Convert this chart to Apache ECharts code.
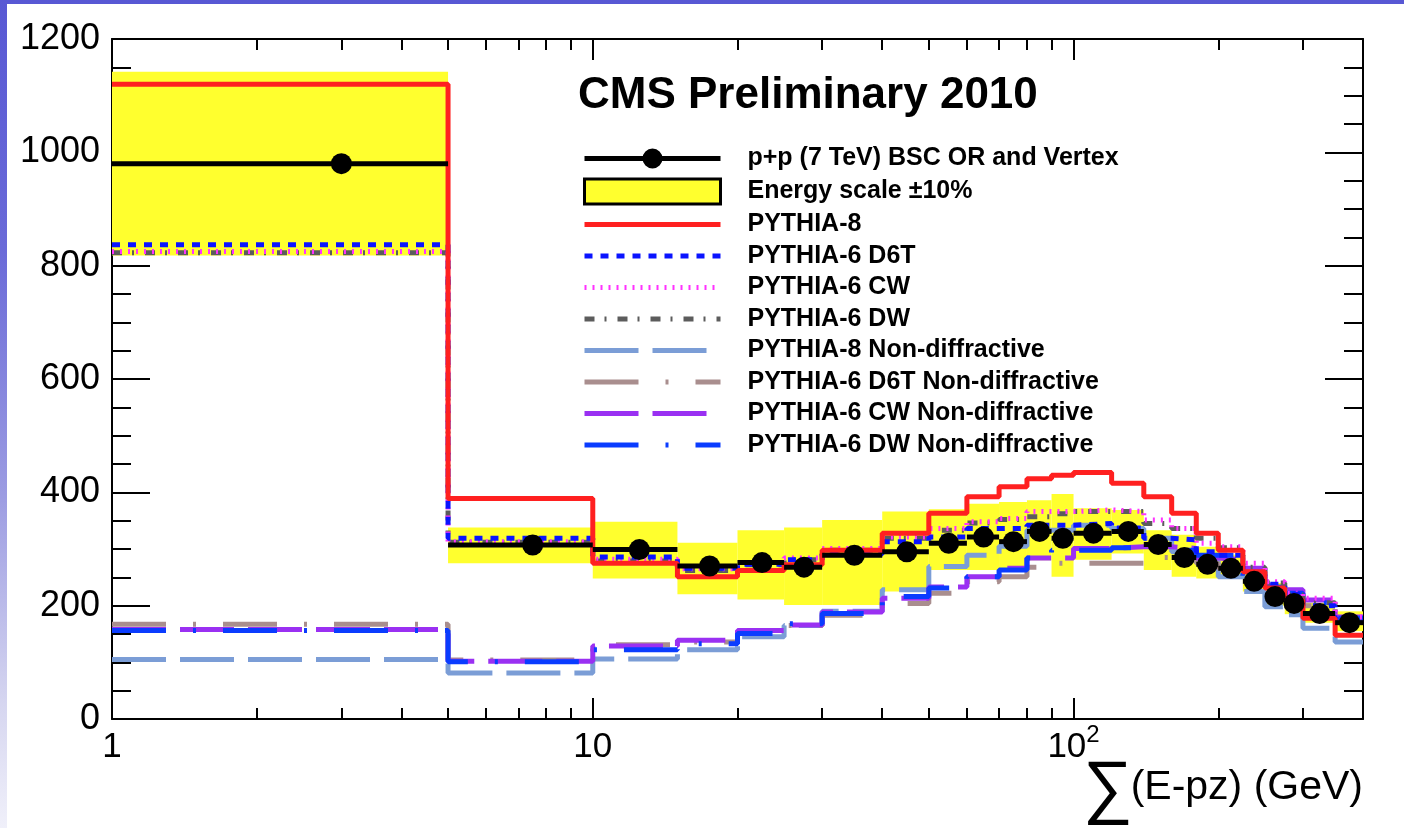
<!DOCTYPE html>
<html><head><meta charset="utf-8">
<script src="https://cdn.jsdelivr.net/npm/echarts@6/dist/echarts.min.js"></script>
<style>
html,body{margin:0;padding:0;width:1404px;height:828px;overflow:hidden;
background:linear-gradient(180deg,#5858d4 0%,#6a6ad8 30%,#9c9ce2 60%,#d6d6f0 85%,#f0f0fa 100%);}
#chart{position:absolute;left:7px;top:4px;width:1397px;height:824px;background:#fff;}
</style></head><body><div id="chart"></div>
<script>
// ---- data ----
const binEdges = [1,5,10,15,20,25,30,40,50,60,70,80,90,100,120,140,160,180,200,225,250,275,300,350,400];
const dataValues = [980,307,299,270,276,268,289,295,310,321,313,331,319,328,331,308,285,273,266,243,216,204,186,170];
const bandLow  = [818,275,248,220,211,201,201,225,263,263,265,280,251,281,292,263,251,248,249,225,200,185,170,155];
const bandHigh = [1142,338,348,311,333,338,351,366,370,380,383,386,397,372,369,333,325,304,290,268,240,225,205,190];
const pythia8  = [1120,389,275,251,262,272,298,328,363,392,410,424,430,435,416,392,363,328,298,260,231,210,178,148];
const d6t      = [837,319,286,266,273,281,291,313,321,336,336,342,342,345,337,319,316,295,289,255,238,220,200,175];
const cw       = [825,313,282,265,276,284,301,321,336,348,354,366,366,369,366,351,336,310,304,275,242,222,213,180];
const dw       = [823,312,279,262,272,281,298,319,333,346,352,357,362,366,366,345,336,319,302,268,240,219,205,175];
const p8nd     = [105,81,106,122,145,165,190,228,269,289,305,333,333,342,336,319,295,278,251,225,198,184,160,136];
const d6tnd    = [167,104,131,136,152,165,183,204,222,242,251,268,275,275,275,285,281,275,266,260,232,220,200,172];
const cwnd     = [158,102,129,139,156,166,189,213,233,251,266,284,284,301,304,304,301,284,281,266,236,228,210,180];
const dwnd     = [156,101,122,133,151,168,186,216,231,251,263,284,298,298,302,304,298,289,289,251,233,222,205,178];
const xMajorTicks = [1,10,100];
const xMinorTicks = [2,3,4,5,6,7,8,9,20,30,40,50,60,70,80,90,200,300];
const yTickInterval = 200;

const names = {
  data: 'p+p (7 TeV) BSC OR and Vertex',
  band: 'Energy scale \u00b110%',
  p8: 'PYTHIA-8', d6t: 'PYTHIA-6 D6T', cw: 'PYTHIA-6 CW', dw: 'PYTHIA-6 DW',
  p8nd: 'PYTHIA-8 Non-diffractive', d6tnd: 'PYTHIA-6 D6T Non-diffractive',
  cwnd: 'PYTHIA-6 CW Non-diffractive', dwnd: 'PYTHIA-6 DW Non-diffractive'
};

const FONT = '"Liberation Sans", Arial, Helvetica, sans-serif';
const LW = 5;

function stepData(vals) {
  return binEdges.map((e, i) => [e, vals[Math.min(i, vals.length - 1)]]);
}
function stepSeries(name, vals, color, type, z) {
  return {
    type: 'line', name, data: stepData(vals), step: 'end', symbol: 'none',
    xAxisIndex: 0, yAxisIndex: 0, z, silent: true,
    lineStyle: { color, width: LW, type, cap: 'butt' },
    itemStyle: { color }
  };
}

const chart = echarts.init(document.getElementById('chart'));

const tickLine = { color: '#000', width: 2 };
const gridRect = { left: 105, right: 41, top: 35, bottom: 109 };

const option = {
  animation: false,
  backgroundColor: '#fff',
  title: {
    text: 'CMS Preliminary 2010', left: 571, top: 70, padding: 0,
    textStyle: { fontSize: 44, fontWeight: 'bold', fontFamily: FONT, color: '#000' }
  },
  grid: [Object.assign({}, gridRect), Object.assign({}, gridRect)],
  xAxis: [
    { gridIndex: 0, type: 'log', logBase: 10, min: 1, max: 400, position: 'bottom',
      axisLine: { show: true, onZero: false, lineStyle: tickLine },
      axisTick: { show: true, inside: true, length: 21, customValues: xMajorTicks, lineStyle: tickLine },
      minorTick: { show: false }, splitLine: { show: false },
      axisLabel: { customValues: xMajorTicks, margin: 4, color: '#000', fontSize: 35, fontFamily: FONT,
        formatter: v => (v >= 100 ? '{b|10}{s|2}' : '{b|' + Math.round(v) + '}'),
        rich: { b: { fontSize: 35, lineHeight: 48, fontFamily: FONT, color: '#000' },
                s: { fontSize: 24, lineHeight: 24, padding: [0, 0, 24, 0], fontFamily: FONT, color: '#000' } } } },
    { gridIndex: 0, type: 'log', logBase: 10, min: 1, max: 400, position: 'top',
      axisLine: { show: true, onZero: false, lineStyle: tickLine },
      axisTick: { show: true, inside: true, length: 21, customValues: xMajorTicks, lineStyle: tickLine },
      minorTick: { show: false }, splitLine: { show: false }, axisLabel: { show: false } },
    { gridIndex: 1, type: 'log', logBase: 10, min: 1, max: 400, position: 'bottom',
      axisLine: { show: false, onZero: false },
      axisTick: { show: true, inside: true, length: 11, customValues: xMinorTicks, lineStyle: tickLine },
      splitLine: { show: false }, axisLabel: { show: false } },
    { gridIndex: 1, type: 'log', logBase: 10, min: 1, max: 400, position: 'top',
      axisLine: { show: false, onZero: false },
      axisTick: { show: true, inside: true, length: 11, customValues: xMinorTicks, lineStyle: tickLine },
      splitLine: { show: false }, axisLabel: { show: false } }
  ],
  yAxis: [
    { gridIndex: 0, type: 'value', min: 0, max: 1200, interval: yTickInterval, position: 'left',
      axisLine: { show: true, onZero: false, lineStyle: tickLine },
      axisTick: { show: true, inside: true, length: 38, lineStyle: tickLine },
      minorTick: { show: true, splitNumber: 4, length: 19, lineStyle: tickLine },
      splitLine: { show: false },
      axisLabel: { margin: 12, color: '#000', fontSize: 36, fontFamily: FONT, formatter: v => String(v) } },
    { gridIndex: 0, type: 'value', min: 0, max: 1200, interval: yTickInterval, position: 'right',
      axisLine: { show: true, onZero: false, lineStyle: tickLine },
      axisTick: { show: true, inside: true, length: 38, lineStyle: tickLine },
      minorTick: { show: true, splitNumber: 4, length: 19, lineStyle: tickLine },
      splitLine: { show: false }, axisLabel: { show: false } },
    { gridIndex: 1, type: 'value', min: 0, max: 1200, show: false }
  ],
  legend: {
    left: 575, top: 142, padding: 0, orient: 'vertical', itemWidth: 136, itemHeight: 25, itemGap: 6.5,
    selectedMode: false,
    itemStyle: { opacity: 0 },
    lineStyle: { width: LW },
    textStyle: { fontSize: 25, fontWeight: 'bold', fontFamily: FONT, color: '#000', padding: [0, 0, 0, 22] },
    data: [
      { name: names.data, icon: 'path://M0,10.5L136,10.5L136,15.5L0,15.5Z M58,13A10,10,0,1,1,78,13A10,10,0,1,1,58,13Z',
        itemStyle: { color: '#000', borderWidth: 0, opacity: 1 } },
      { name: names.band, icon: 'rect', itemStyle: { color: '#ffff2e', borderColor: '#000', borderWidth: 3, opacity: 1 } },
      names.p8, names.d6t, names.cw, names.dw, names.p8nd, names.d6tnd, names.cwnd, names.dwnd
    ]
  },
  graphic: [
    { type: 'text', x: 1101, y: 787, silent: true,
      style: { text: '\u2211', fontSize: 70, fontFamily: FONT, fill: '#000', align: 'center', verticalAlign: 'middle',
               textAlign: 'center', textVerticalAlign: 'middle' } },
    { type: 'text', x: 1356, y: 784, silent: true,
      style: { text: '(E-pz) (GeV)', fontSize: 41, fontFamily: FONT, fill: '#000', align: 'right', verticalAlign: 'middle',
               textAlign: 'right', textVerticalAlign: 'middle' } }
  ],
  series: [
    { type: 'custom', name: names.band, xAxisIndex: 0, yAxisIndex: 0, z: 1, silent: true,
      itemStyle: { color: '#ffff2e' },
      data: dataValues.map((_, i) => [binEdges[i], binEdges[i + 1], bandLow[i], bandHigh[i]]),
      encode: { x: [0, 1], y: [2, 3] },
      renderItem: (params, api) => {
        const p0 = api.coord([api.value(0), api.value(3)]);
        const p1 = api.coord([api.value(1), api.value(2)]);
        return { type: 'rect', shape: { x: p0[0], y: p0[1], width: p1[0] - p0[0], height: p1[1] - p0[1] },
                 style: { fill: '#ffff2e' } };
      } },
    stepSeries(names.p8nd, p8nd, '#7b9dd6', [54, 14], 2),
    stepSeries(names.d6tnd, d6tnd, '#a98e8e', [54, 27, 3, 27], 2),
    stepSeries(names.cwnd, cwnd, '#9a30f2', [54, 14], 3),
    stepSeries(names.dwnd, dwnd, '#0a3cff', [54, 27, 3, 27], 3),
    stepSeries(names.dw, dw, '#5c5c5c', [10, 10, 2, 11], 4),
    stepSeries(names.cw, cw, '#ff33ff', [2, 6], 4),
    stepSeries(names.d6t, d6t, '#0a14ff', [8, 8], 4),
    stepSeries(names.p8, pythia8, '#ff2020', 'solid', 5),
    { type: 'custom', name: names.data, xAxisIndex: 0, yAxisIndex: 0, z: 6, silent: true,
      itemStyle: { color: '#000' },
      data: dataValues.map((v, i) => [binEdges[i], binEdges[i + 1], v]),
      encode: { x: [0, 1], y: 2 },
      renderItem: (params, api) => {
        const x0 = api.value(0), x1 = api.value(1), v = api.value(2);
        const a = api.coord([x0, v]), b = api.coord([x1, v]), c = api.coord([(x0 + x1) / 2, v]);
        return { type: 'group', children: [
          { type: 'line', shape: { x1: a[0], y1: a[1], x2: b[0], y2: b[1] }, style: { stroke: '#000', lineWidth: 5 } },
          { type: 'circle', shape: { cx: c[0], cy: c[1], r: 10.5 }, style: { fill: '#000' } }
        ] };
      } }
  ]
};
chart.setOption(option);
</script>
</body></html>
